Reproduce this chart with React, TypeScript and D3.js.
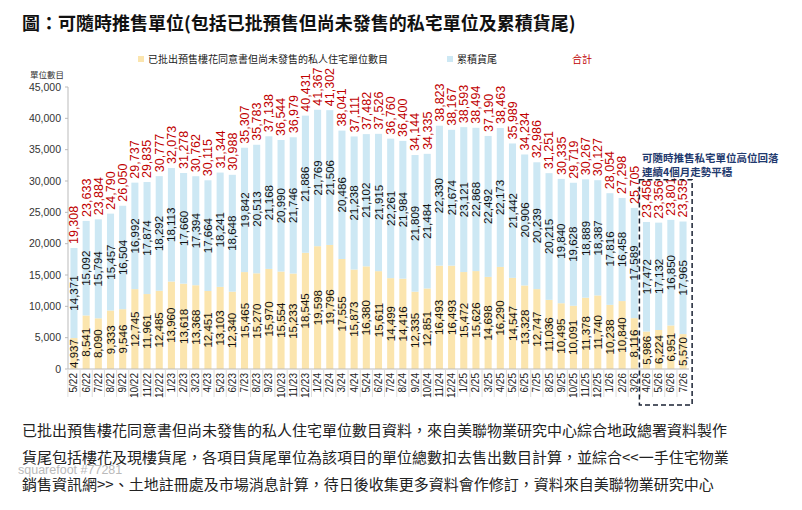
import React, { useEffect } from 'react';
import * as d3 from 'd3';

const months = [
  '5/22', '6/22', '7/22', '8/22', '9/22', '10/22', '11/22', '12/22',
  '1/23', '2/23', '3/23', '4/23', '5/23', '6/23', '7/23', '8/23', '9/23', '10/23', '11/23', '12/23',
  '1/24', '2/24', '3/24', '4/24', '5/24', '6/24', '7/24', '8/24', '9/24', '10/24', '11/24', '12/24',
  '1/25', '2/25', '3/25', '4/25', '5/25', '6/25', '7/25', '8/25', '9/25', '10/25', '11/25', '12/25',
  '1/26', '2/26', '3/26', '4/26', '5/26', '6/26', '7/26',
];

// 已批出預售樓花同意書但尚未發售的私人住宅單位數目
const presale = [
  4937, 8541, 8090, 9333, 9546, 12745, 11961, 12485,
  13960, 13618, 13368, 12451, 13103, 12340, 15465, 15270, 15970, 15554, 15233, 18545,
  19598, 19796, 17555, 15873, 16380, 15611, 14499, 14416, 12335, 12851, 16493, 16493,
  15472, 15626, 14698, 16290, 14547, 13328, 12747, 11036, 10495, 10091, 11378, 11740,
  10238, 10840, 8116, 5986, 6224, 6951, 5570,
];

// 累積貨尾
const inventory = [
  14371, 15092, 15794, 15457, 16504, 16992, 17874, 18292,
  18113, 17660, 17394, 17664, 18241, 18648, 19842, 20513, 21168, 20990, 21746, 21886,
  21769, 21506, 20486, 21238, 21102, 21915, 22261, 21984, 21809, 21484, 22330, 21674,
  23121, 22868, 22492, 22173, 21442, 20906, 20239, 20215, 19840, 19628, 18889, 18387,
  17816, 16458, 17589, 17472, 17132, 16850, 17965,
];

// 合計
const totals = [
  19308, 23633, 23884, 24790, 26050, 29737, 29835, 30777,
  32073, 31278, 30762, 30115, 31344, 30988, 35307, 35783, 37138, 36544, 36979, 40431,
  41367, 41302, 38041, 37111, 37482, 37526, 36760, 36400, 34144, 34335, 38823, 38167,
  38593, 38494, 37190, 38463, 35989, 34234, 32986, 31251, 30335, 29719, 30267, 30127,
  28054, 27298, 25705, 23458, 23356, 23801, 23535,
];

const yTicks = [0, 5000, 10000, 15000, 20000, 25000, 30000, 35000, 40000, 45000];
const boxMonths = ['4/26', '5/26', '6/26', '7/26'];

const footnotes = [
  '已批出預售樓花同意書但尚未發售的私人住宅單位數目資料，來自美聯物業研究中心綜合地政總署資料製作',
  '貨尾包括樓花及現樓貨尾，各項目貨尾單位為該項目的單位總數扣去售出數目計算，並綜合<<一手住宅物業',
  '銷售資訊網>>、土地註冊處及市場消息計算，待日後收集更多資料會作修訂，資料來自美聯物業研究中心',
];

const YELLOW = '#fbe5ae';
const BLUE = '#cde8f4';
const RED = '#c00000';
const CJK = '"Noto Sans CJK TC", "Noto Sans", sans-serif';
const NUM = '"Liberation Sans", Arial, sans-serif';

const fmt = d3.format(',');

export default function App() {
  useEffect(() => {
    document.body.style.margin = '0';
  }, []);

  const width = 802;
  const height = 510;

  const x = d3.scaleBand<string>()
    .domain(months)
    .range([68, 689])
    .paddingInner(0.42)
    .paddingOuter(0.2);

  const y = d3.scaleLinear().domain([0, 45000]).range([369, 87]);

  const bw = x.bandwidth();
  const step = x.step();
  const cx = (m: string) => (x(m) ?? 0) + bw / 2;

  const boxLeft = (x(boxMonths[0]) ?? 0) - (step - bw) / 2 - 1;
  const boxRight = (x(boxMonths[boxMonths.length - 1]) ?? 0) + bw + (step - bw) / 2 + 3;
  const boxTop = y(d3.max(boxMonths.map((m) => totals[months.indexOf(m)]))!) - 40;
  const boxBottom = y(0) + 36;

  return (
    <svg width={width} height={height} style={{ display: 'block', background: '#fff' }}>
      {/* title */}
      <text x={22} y={30} fontFamily={CJK} fontSize={18} fontWeight="bold" fill="#111">
        圖：可隨時推售單位(包括已批預售但尚未發售的私宅單位及累積貨尾)
      </text>

      {/* legend */}
      <rect x={138} y={56} width={6} height={6} fill={YELLOW} />
      <text x={148} y={63} fontFamily={CJK} fontSize={10} fill="#222">
        已批出預售樓花同意書但尚未發售的私人住宅單位數目
      </text>
      <rect x={447} y={56} width={6} height={6} fill={BLUE} />
      <text x={457} y={63} fontFamily={CJK} fontSize={10} fill="#222">累積貨尾</text>
      <text x={572} y={63} fontFamily={CJK} fontSize={10} fill={RED}>合計</text>

      {/* y axis */}
      <text x={30} y={78} fontFamily={CJK} fontSize={8.5} fill="#333">單位數目</text>
      <line x1={68} x2={68} y1={y(45000)} y2={y(0)} stroke="#bbb" />
      {yTicks.map((t) => (
        <g key={t}>
          <line x1={65} x2={68} y1={y(t)} y2={y(t)} stroke="#bbb" />
          <text x={61} y={y(t)} dy="0.35em" textAnchor="end" fontFamily={NUM} fontSize={10.5} fill="#333">
            {fmt(t)}
          </text>
        </g>
      ))}

      {/* bars */}
      {months.map((m, i) => (
        <g key={m}>
          <rect x={x(m)} y={y(presale[i])} width={bw} height={y(0) - y(presale[i])} fill={YELLOW} />
          <rect
            x={x(m)}
            y={y(presale[i] + inventory[i])}
            width={bw}
            height={y(presale[i]) - y(presale[i] + inventory[i])}
            fill={BLUE}
          />
        </g>
      ))}

      {/* x axis */}
      <line x1={68} x2={689} y1={y(0)} y2={y(0)} stroke="#bbb" />
      {months.map((m) => (
        <line
          key={'sep' + m}
          x1={(x(m) ?? 0) - (step - bw) / 2}
          x2={(x(m) ?? 0) - (step - bw) / 2}
          y1={y(0)}
          y2={y(0) + 28}
          stroke="#ddd"
        />
      ))}
      {months.map((m) => (
        <text
          key={'lab' + m}
          transform={`translate(${cx(m)},${y(0) + 4}) rotate(-90)`}
          dy="0.35em"
          textAnchor="end"
          fontFamily={NUM}
          fontSize={10}
          fill="#222"
        >
          {m}
        </text>
      ))}

      {/* value labels */}
      {months.map((m, i) => (
        <g key={'v' + m} fontFamily={NUM} fontSize={11.5}>
          <text
            transform={`translate(${cx(m)},${y(presale[i] / 2)}) rotate(-90)`}
            dy="0.35em"
            textAnchor="middle"
            fill="#111"
          >
            {fmt(presale[i])}
          </text>
          <text
            transform={`translate(${cx(m)},${y(presale[i] + inventory[i] / 2)}) rotate(-90)`}
            dy="0.35em"
            textAnchor="middle"
            fill="#111"
          >
            {fmt(inventory[i])}
          </text>
          <text
            transform={`translate(${cx(m)},${y(totals[i]) - 4}) rotate(-90)`}
            dy="0.35em"
            textAnchor="start"
            fontSize={12.5}
            fill={RED}
          >
            {fmt(totals[i])}
          </text>
        </g>
      ))}

      {/* annotation */}
      <rect
        x={boxLeft}
        y={boxTop}
        width={boxRight - boxLeft}
        height={boxBottom - boxTop}
        fill="none"
        stroke="#1a2233"
        strokeWidth={1.5}
        strokeDasharray="5,3"
      />
      <text x={642} y={162} fontFamily={CJK} fontSize={10.5} fontWeight="bold" fill="#1f3a6e">
        可隨時推售私宅單位高位回落
      </text>
      <text x={642} y={176} fontFamily={CJK} fontSize={10.5} fontWeight="bold" fill="#1f3a6e">
        連續4個月走勢平穩
      </text>

      {/* footnotes */}
      {footnotes.map((f, i) => (
        <text key={i} x={22} y={436 + i * 27} fontFamily={CJK} fontSize={15} fill="#222">
          {f}
        </text>
      ))}
      <text x={18} y={474} fontFamily={NUM} fontSize={12.5} fill="#aaa" opacity={0.8}>
        squarefoot #77281
      </text>
    </svg>
  );
}
